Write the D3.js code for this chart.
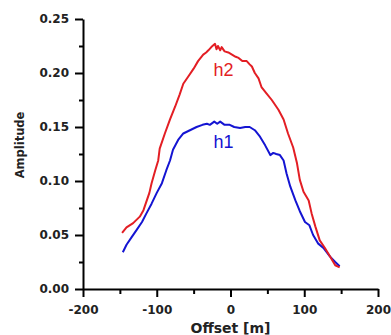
<!DOCTYPE html>
<html>
<head>
<meta charset="utf-8">
<script src="https://cdn.jsdelivr.net/npm/d3@7"></script>
<style>
  body { margin: 0; background: #fff; }
  .tick text { font-family: "DejaVu Sans", sans-serif; font-weight: bold; font-size: 12px; fill: #222; }
</style>
</head>
<body>
<div id="chart-area"></div>
<script>
// offset [m] / amplitude
const h2Offset = [-147, -141, -132, -123, -118, -115, -110, -107, -102, -98, -96, -89, -82, -75, -69, -64, -57, -50, -44, -37, -33, -30, -26, -21, -19, -17, -14, -12, -8, -3, 2, 7, 11, 16, 22, 26, 29, 33, 38, 42, 49, 56, 65, 72, 78, 85, 90, 94, 99, 106, 110, 115, 121, 128, 135, 142, 148];
const h2Amp = [0.052, 0.057, 0.061, 0.067, 0.073, 0.079, 0.089, 0.098, 0.110, 0.119, 0.130, 0.144, 0.157, 0.169, 0.180, 0.190, 0.197, 0.204, 0.211, 0.217, 0.219, 0.221, 0.224, 0.227, 0.222, 0.225, 0.221, 0.224, 0.220, 0.219, 0.217, 0.215, 0.214, 0.211, 0.211, 0.208, 0.206, 0.200, 0.195, 0.187, 0.181, 0.175, 0.166, 0.157, 0.144, 0.131, 0.117, 0.101, 0.090, 0.082, 0.070, 0.058, 0.045, 0.038, 0.030, 0.022, 0.020];

const h1Offset = [-146, -141, -134, -127, -120, -114, -107, -100, -93, -87, -82, -78, -71, -64, -55, -46, -38, -32, -28, -22, -18, -14, -8, -1, 5, 13, 20, 26, 33, 40, 47, 54, 58, 62, 67, 72, 76, 81, 88, 94, 101, 107, 112, 119, 126, 135, 142, 148];
const h1Amp = [0.034, 0.041, 0.048, 0.055, 0.062, 0.070, 0.079, 0.089, 0.098, 0.110, 0.119, 0.129, 0.138, 0.144, 0.147, 0.150, 0.152, 0.153, 0.152, 0.155, 0.153, 0.155, 0.152, 0.152, 0.150, 0.149, 0.150, 0.150, 0.147, 0.141, 0.133, 0.124, 0.126, 0.125, 0.124, 0.119, 0.107, 0.095, 0.082, 0.072, 0.062, 0.059, 0.050, 0.042, 0.038, 0.030, 0.025, 0.021];

const xTicks = [-200, -100, 0, 100, 200];
const xMinorTicks = [-150, -50, 50, 150];
const yTicks = [0, 0.05, 0.10, 0.15, 0.20, 0.25];
const yMinorTicks = [0.025, 0.075, 0.125, 0.175, 0.225];

const svgWidth = 391;
const svgHeight = 335;

const svg = d3.select("#chart-area")
    .append("svg")
    .attr("width", svgWidth)
    .attr("height", svgHeight);

const xScale = d3.scaleLinear().domain([-200, 200]).range([83, 378]);
const yScale = d3.scaleLinear().domain([0, 0.25]).range([289, 19]);

// minor ticks first, major axis on top
svg.append("g")
    .attr("transform", "translate(0,289)")
    .call(d3.axisBottom(xScale).tickValues(xMinorTicks).tickSize(5).tickFormat(""))
    .call(g => g.select(".domain").remove())
    .selectAll("line").attr("stroke", "#000").attr("stroke-width", 2);

svg.append("g")
    .attr("transform", "translate(83,0)")
    .call(d3.axisLeft(yScale).tickValues(yMinorTicks).tickSize(4).tickFormat(""))
    .call(g => g.select(".domain").remove())
    .selectAll("line").attr("stroke", "#000").attr("stroke-width", 2);

const xAxisGroup = svg.append("g")
    .attr("transform", "translate(0,289)")
    .call(d3.axisBottom(xScale).tickValues(xTicks).tickSizeInner(8).tickSizeOuter(0).tickFormat(d => `${d}`));
xAxisGroup.select(".domain").attr("stroke", "#000").attr("stroke-width", 2);
xAxisGroup.selectAll(".tick line").attr("stroke", "#000").attr("stroke-width", 2);
xAxisGroup.selectAll("text").attr("y", 17).attr("dy", "0.65em");

const yAxisGroup = svg.append("g")
    .attr("transform", "translate(83,0)")
    .call(d3.axisLeft(yScale).tickValues(yTicks).tickSizeInner(8).tickSizeOuter(0).tickFormat(d3.format(".2f")));
yAxisGroup.select(".domain").attr("stroke", "#000").attr("stroke-width", 2);
yAxisGroup.selectAll(".tick line").attr("stroke", "#000").attr("stroke-width", 2);
yAxisGroup.selectAll("text").attr("x", -14);

svg.append("text")
    .attr("x", xScale(0))
    .attr("y", 333)
    .attr("text-anchor", "middle")
    .style("font-family", "DejaVu Sans, sans-serif")
    .style("font-size", "14px")
    .style("font-weight", "bold")
    .style("fill", "#222")
    .text("Offset [m]");

svg.append("text")
    .attr("transform", "rotate(-90)")
    .attr("x", -145)
    .attr("y", 24)
    .attr("text-anchor", "middle")
    .style("font-family", "DejaVu Sans, sans-serif")
    .style("font-size", "11.5px")
    .style("font-weight", "bold")
    .style("fill", "#222")
    .text("Amplitude");

const line = d3.line()
    .x(d => xScale(d[0]))
    .y(d => yScale(d[1]));

const series = [
    { name: "h1", color: "#1414d2", points: d3.zip(h1Offset, h1Amp), labelX: -23, labelY: 0.131 },
    { name: "h2", color: "#e31e24", points: d3.zip(h2Offset, h2Amp), labelX: -23, labelY: 0.197 }
];

series.forEach(s => {
    svg.append("path")
        .datum(s.points)
        .attr("fill", "none")
        .attr("stroke", s.color)
        .attr("stroke-width", 2)
        .attr("stroke-linejoin", "round")
        .attr("d", line);

    svg.append("text")
        .attr("x", xScale(s.labelX))
        .attr("y", yScale(s.labelY))
        .style("font-family", "Liberation Sans, Arial, sans-serif")
        .style("font-size", "18px")
        .style("fill", s.color)
        .text(s.name);
});
</script>
</body>
</html>
